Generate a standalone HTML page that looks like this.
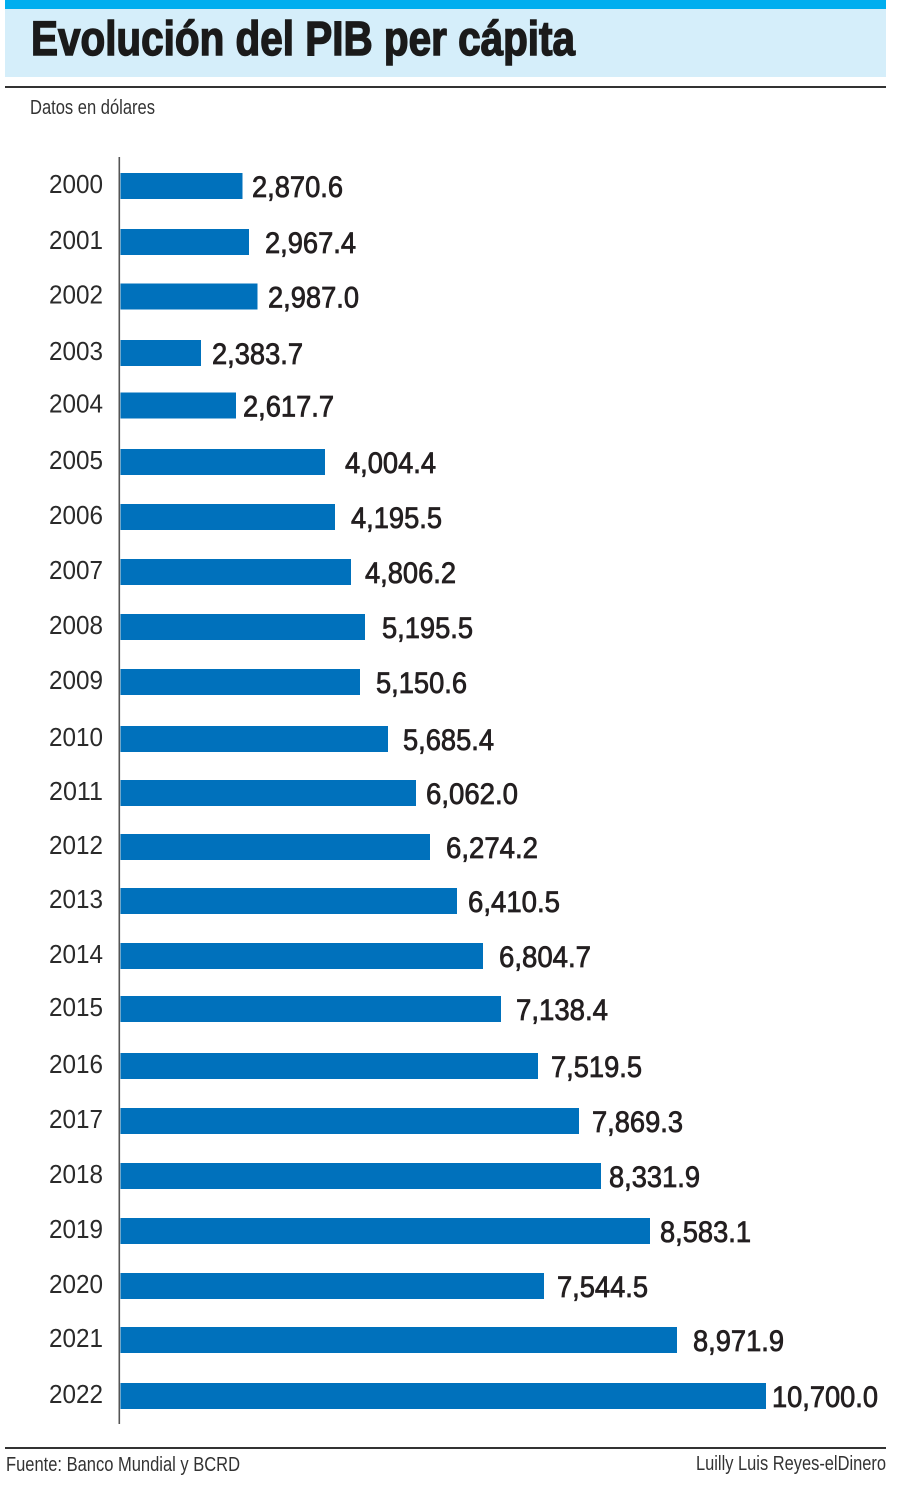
<!DOCTYPE html>
<html>
<head>
<meta charset="utf-8">
<style>
html,body{margin:0;padding:0;background:#fff;}
svg{display:block;}
</style>
</head>
<body>
<svg width="900" height="1490" viewBox="0 0 900 1490" xmlns="http://www.w3.org/2000/svg">
  <rect x="0" y="0" width="900" height="1490" fill="#ffffff"/>
  <!-- header -->
  <rect x="5" y="0" width="881" height="9" fill="#00aeef"/>
  <rect x="5" y="9" width="881" height="68" fill="#d5eefa"/>
  <text x="31" y="55" font-family="Liberation Sans, sans-serif" font-weight="700" font-size="48" fill="#1a1a1a" stroke="#1a1a1a" stroke-width="1.5" textLength="544" lengthAdjust="spacingAndGlyphs">Evolución del PIB per cápita</text>
  <rect x="5" y="86" width="881" height="2" fill="#333"/>
  <text x="30" y="114" font-family="Liberation Sans, sans-serif" font-size="20" fill="#333" textLength="125" lengthAdjust="spacingAndGlyphs">Datos en dólares</text>

  <!-- axis -->
  <rect x="118.5" y="157" width="1.6" height="1267" fill="#555"/>

  <g fill="#0071bc">
    <rect x="120.5" y="173" width="122" height="26"/>
    <rect x="120.5" y="229" width="128.5" height="26"/>
    <rect x="120.5" y="283.5" width="137" height="26"/>
    <rect x="120.5" y="340" width="80.5" height="26"/>
    <rect x="120.5" y="392.5" width="115.5" height="26"/>
    <rect x="120.5" y="449" width="204.5" height="26"/>
    <rect x="120.5" y="504" width="214.5" height="26"/>
    <rect x="120.5" y="559" width="230.5" height="26"/>
    <rect x="120.5" y="614" width="244.5" height="26"/>
    <rect x="120.5" y="669" width="239.5" height="26"/>
    <rect x="120.5" y="726" width="267.5" height="26"/>
    <rect x="120.5" y="780" width="295.5" height="26"/>
    <rect x="120.5" y="834" width="309.5" height="26"/>
    <rect x="120.5" y="888" width="336.5" height="26"/>
    <rect x="120.5" y="943" width="362.5" height="26"/>
    <rect x="120.5" y="996" width="380.5" height="26"/>
    <rect x="120.5" y="1053" width="417.5" height="26"/>
    <rect x="120.5" y="1108" width="458.5" height="26"/>
    <rect x="120.5" y="1163" width="480.5" height="26"/>
    <rect x="120.5" y="1218" width="529.5" height="26"/>
    <rect x="120.5" y="1273" width="423.5" height="26"/>
    <rect x="120.5" y="1327" width="556.5" height="26"/>
    <rect x="120.5" y="1383" width="645.5" height="26"/>
  </g>

  <!-- year labels -->
  <g font-family="Liberation Sans, sans-serif" font-size="25.5" fill="#2a2a2a" text-anchor="end">
    <text x="103" y="193" textLength="54" lengthAdjust="spacingAndGlyphs">2000</text>
    <text x="103" y="249" textLength="54" lengthAdjust="spacingAndGlyphs">2001</text>
    <text x="103" y="303.5" textLength="54" lengthAdjust="spacingAndGlyphs">2002</text>
    <text x="103" y="360" textLength="54" lengthAdjust="spacingAndGlyphs">2003</text>
    <text x="103" y="412.5" textLength="54" lengthAdjust="spacingAndGlyphs">2004</text>
    <text x="103" y="469" textLength="54" lengthAdjust="spacingAndGlyphs">2005</text>
    <text x="103" y="524" textLength="54" lengthAdjust="spacingAndGlyphs">2006</text>
    <text x="103" y="579" textLength="54" lengthAdjust="spacingAndGlyphs">2007</text>
    <text x="103" y="634" textLength="54" lengthAdjust="spacingAndGlyphs">2008</text>
    <text x="103" y="689" textLength="54" lengthAdjust="spacingAndGlyphs">2009</text>
    <text x="103" y="746" textLength="54" lengthAdjust="spacingAndGlyphs">2010</text>
    <text x="103" y="800" textLength="54" lengthAdjust="spacingAndGlyphs">2011</text>
    <text x="103" y="854" textLength="54" lengthAdjust="spacingAndGlyphs">2012</text>
    <text x="103" y="908" textLength="54" lengthAdjust="spacingAndGlyphs">2013</text>
    <text x="103" y="963" textLength="54" lengthAdjust="spacingAndGlyphs">2014</text>
    <text x="103" y="1016" textLength="54" lengthAdjust="spacingAndGlyphs">2015</text>
    <text x="103" y="1073" textLength="54" lengthAdjust="spacingAndGlyphs">2016</text>
    <text x="103" y="1128" textLength="54" lengthAdjust="spacingAndGlyphs">2017</text>
    <text x="103" y="1183" textLength="54" lengthAdjust="spacingAndGlyphs">2018</text>
    <text x="103" y="1238" textLength="54" lengthAdjust="spacingAndGlyphs">2019</text>
    <text x="103" y="1293" textLength="54" lengthAdjust="spacingAndGlyphs">2020</text>
    <text x="103" y="1347" textLength="54" lengthAdjust="spacingAndGlyphs">2021</text>
    <text x="103" y="1403" textLength="54" lengthAdjust="spacingAndGlyphs">2022</text>
  </g>

  <!-- value labels -->
  <g font-family="Liberation Sans, sans-serif" font-size="30" fill="#231f20" stroke="#231f20" stroke-width="0.8">
    <text x="252" y="197" textLength="91" lengthAdjust="spacingAndGlyphs">2,870.6</text>
    <text x="265" y="253" textLength="91" lengthAdjust="spacingAndGlyphs">2,967.4</text>
    <text x="268" y="307.5" textLength="91" lengthAdjust="spacingAndGlyphs">2,987.0</text>
    <text x="212" y="364" textLength="91" lengthAdjust="spacingAndGlyphs">2,383.7</text>
    <text x="243" y="416.5" textLength="91" lengthAdjust="spacingAndGlyphs">2,617.7</text>
    <text x="345" y="473" textLength="91" lengthAdjust="spacingAndGlyphs">4,004.4</text>
    <text x="351" y="528" textLength="91" lengthAdjust="spacingAndGlyphs">4,195.5</text>
    <text x="365" y="583" textLength="91" lengthAdjust="spacingAndGlyphs">4,806.2</text>
    <text x="382" y="638" textLength="91" lengthAdjust="spacingAndGlyphs">5,195.5</text>
    <text x="376" y="693" textLength="91" lengthAdjust="spacingAndGlyphs">5,150.6</text>
    <text x="403" y="750" textLength="91" lengthAdjust="spacingAndGlyphs">5,685.4</text>
    <text x="426" y="804" textLength="92" lengthAdjust="spacingAndGlyphs">6,062.0</text>
    <text x="446" y="858" textLength="92" lengthAdjust="spacingAndGlyphs">6,274.2</text>
    <text x="468" y="912" textLength="92" lengthAdjust="spacingAndGlyphs">6,410.5</text>
    <text x="499" y="967" textLength="92" lengthAdjust="spacingAndGlyphs">6,804.7</text>
    <text x="516" y="1020" textLength="92" lengthAdjust="spacingAndGlyphs">7,138.4</text>
    <text x="551" y="1077" textLength="91" lengthAdjust="spacingAndGlyphs">7,519.5</text>
    <text x="592" y="1132" textLength="91" lengthAdjust="spacingAndGlyphs">7,869.3</text>
    <text x="609" y="1187" textLength="91" lengthAdjust="spacingAndGlyphs">8,331.9</text>
    <text x="660" y="1242" textLength="91" lengthAdjust="spacingAndGlyphs">8,583.1</text>
    <text x="557" y="1297" textLength="91" lengthAdjust="spacingAndGlyphs">7,544.5</text>
    <text x="693" y="1351" textLength="91" lengthAdjust="spacingAndGlyphs">8,971.9</text>
    <text x="772" y="1407" textLength="106" lengthAdjust="spacingAndGlyphs">10,700.0</text>
  </g>

  <!-- footer -->
  <rect x="5" y="1447" width="881" height="2" fill="#333"/>
  <text x="6" y="1471" font-family="Liberation Sans, sans-serif" font-size="20" fill="#333" textLength="234" lengthAdjust="spacingAndGlyphs">Fuente: Banco Mundial y BCRD</text>
  <text x="886" y="1470" font-family="Liberation Sans, sans-serif" font-size="20" fill="#333" text-anchor="end" textLength="190" lengthAdjust="spacingAndGlyphs">Luilly Luis Reyes-elDinero</text>
</svg>
</body>
</html>
